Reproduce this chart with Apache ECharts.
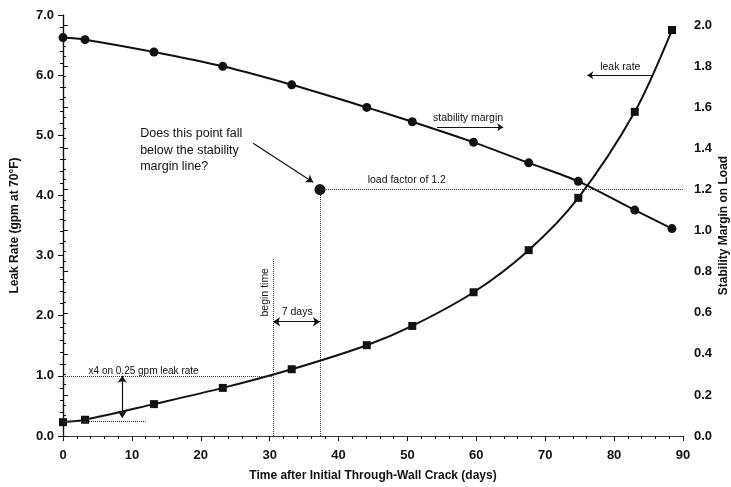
<!DOCTYPE html>
<html>
<head>
<meta charset="utf-8">
<script src="https://cdn.jsdelivr.net/npm/echarts@6/dist/echarts.min.js"></script>
<style>
html, body { margin: 0; padding: 0; background: #fff; }
#chart { width: 731px; height: 487px; }
</style>
</head>
<body>
<div id="chart"></div>
<script>
// time after initial through-wall crack (days)
var days = [0, 3.2, 13.2, 23.2, 33.2, 44.1, 50.7, 59.6, 67.6, 74.8, 83.0, 88.4];
// leak rate, gpm at 70F (left axis)
var leakRate = [0.23, 0.27, 0.53, 0.80, 1.11, 1.51, 1.83, 2.39, 3.09, 3.96, 5.39, 6.75];
// stability margin on load (right axis)
var stabilityMargin = [1.94, 1.93, 1.87, 1.80, 1.71, 1.60, 1.53, 1.43, 1.33, 1.24, 1.10, 1.01];
// the questioned point: begin time + 7 days, load factor 1.2
var beginTime = 30.5;
var queryPoint = [37.3, 1.2];
var marginTicks = [0, 0.2, 0.4, 0.6, 0.8, 1.0, 1.2, 1.4, 1.6, 1.8, 2.0];

var FONT = 'Liberation Sans, Arial, sans-serif';
var INK = '#111';

var chart = echarts.init(document.getElementById('chart'));

function pairs(xs, ys) {
    return xs.map(function (x, i) { return [x, ys[i]]; });
}

var dotted = { type: 'dotted', color: '#333', width: 1 };
var solid = { type: 'solid', color: INK, width: 1.2 };

var tickLabel = { color: INK, fontFamily: FONT, fontWeight: 'bold', fontSize: 13 };
var nameStyle = { color: INK, fontFamily: FONT, fontWeight: 'bold', fontSize: 12 };

var option = {
    animation: false,
    backgroundColor: '#fff',
    grid: { left: 63, right: 48, top: 15, bottom: 51, outerBoundsMode: 'none', containLabel: false },
    xAxis: [
        {
            type: 'value',
            min: 0,
            max: 90,
            interval: 10,
            name: 'Time after Initial Through-Wall Crack (days)',
            nameLocation: 'middle',
            nameGap: 34,
            nameTextStyle: nameStyle,
            axisLine: { lineStyle: { color: INK, width: 1.2 } },
            axisTick: { length: 5, lineStyle: { color: INK } },
            minorTick: { show: true, splitNumber: 5, length: 3, lineStyle: { color: INK } },
            axisLabel: Object.assign({ margin: 13 }, tickLabel),
            splitLine: { show: false }
        },
        {
            type: 'value',
            position: 'top',
            min: 0,
            max: 90,
            axisLine: { show: true, lineStyle: { color: '#444', type: 'dotted', width: 1 } },
            axisTick: { show: false },
            axisLabel: { show: false },
            splitLine: { show: false }
        }
    ],
    yAxis: [
        {
            type: 'value',
            min: 0,
            max: 7,
            interval: 1,
            name: 'Leak Rate (gpm at 70°F)',
            nameLocation: 'middle',
            nameRotate: 90,
            nameGap: 42,
            nameTextStyle: nameStyle,
            axisLine: { show: true, lineStyle: { color: INK, width: 1.2 } },
            axisTick: { length: 5, lineStyle: { color: INK } },
            minorTick: { show: true, splitNumber: 5, length: 3, lineStyle: { color: INK } },
            axisLabel: Object.assign({ margin: 9, formatter: function (v) { return v.toFixed(1); } }, tickLabel),
            splitLine: { show: false }
        },
        {
            type: 'value',
            min: 0,
            max: 2.05,
            interval: 0.2,
            position: 'right',
            name: 'Stability Margin on Load',
            nameLocation: 'middle',
            nameRotate: 90,
            nameGap: 35,
            nameMoveOverlap: false,
            nameTextStyle: nameStyle,
            axisLine: { show: true, lineStyle: { color: INK, width: 1.2 } },
            axisTick: { length: 5, customValues: marginTicks, lineStyle: { color: INK } },
            minorTick: { show: true, splitNumber: 4, length: 3, lineStyle: { color: INK } },
            axisLabel: Object.assign({
                margin: 11,
                customValues: marginTicks,
                formatter: function (v) { return v.toFixed(1); }
            }, tickLabel),
            splitLine: { show: false }
        }
    ],
    series: [
        {
            name: 'leak rate',
            type: 'line',
            xAxisIndex: 0,
            yAxisIndex: 0,
            smooth: 0.3,
            symbol: 'rect',
            symbolSize: 8,
            lineStyle: { color: INK, width: 2 },
            itemStyle: { color: INK },
            data: pairs(days, leakRate),
            markLine: {
                silent: true,
                symbol: 'none',
                label: { show: false },
                data: [
                    // x4 on the 0.25 gpm leak rate
                    [{ coord: [0, 1.0], lineStyle: dotted }, { coord: [beginTime, 1.0] }],
                    [{ coord: [0, 0.25], lineStyle: dotted }, { coord: [12, 0.25] }],
                    // begin time
                    [{ coord: [beginTime, 0], lineStyle: dotted }, { coord: [beginTime, 2.95] }],
                    // 7 days double arrow
                    [{ coord: [beginTime, 1.9], lineStyle: solid, symbol: 'arrow', symbolSize: 7 },
                     { coord: [queryPoint[0], 1.9], symbol: 'arrow', symbolSize: 7 }],
                    // x4 double arrow
                    [{ coord: [8.6, 0.3], lineStyle: solid, symbol: 'arrow', symbolSize: 7 },
                     { coord: [8.6, 1.0], symbol: 'arrow', symbolSize: 7 }],
                    // leak rate label arrow
                    [{ coord: [85.5, 6.0], lineStyle: solid, symbol: 'none' },
                     { coord: [76.1, 6.0], symbol: 'arrow', symbolSize: 6 }]
                ]
            }
        },
        {
            name: 'stability margin',
            type: 'line',
            xAxisIndex: 0,
            yAxisIndex: 1,
            smooth: 0.3,
            symbol: 'circle',
            symbolSize: 9,
            lineStyle: { color: INK, width: 2 },
            itemStyle: { color: INK },
            data: pairs(days, stabilityMargin),
            markLine: {
                silent: true,
                symbol: 'none',
                label: { show: false },
                data: [
                    // load factor of 1.2
                    [{ coord: [queryPoint[0], 1.2], lineStyle: dotted }, { coord: [90, 1.2] }],
                    [{ coord: [queryPoint[0], 0], lineStyle: dotted }, { coord: [queryPoint[0], 1.2] }],
                    // stability margin label arrow
                    [{ coord: [54.3, 1.504], lineStyle: solid, symbol: 'none' },
                     { coord: [63.9, 1.504], symbol: 'arrow', symbolSize: 6 }],
                    // question arrow
                    [{ coord: [27.6, 1.426], lineStyle: solid, symbol: 'none' },
                     { coord: [36.3, 1.236], symbol: 'arrow', symbolSize: 7 }]
                ]
            }
        },
        {
            name: 'question',
            type: 'scatter',
            xAxisIndex: 0,
            yAxisIndex: 1,
            symbol: 'circle',
            symbolSize: 11,
            itemStyle: { color: INK, opacity: 1 },
            data: [queryPoint]
        }
    ]
};

chart.setOption(option);

// annotation texts, placed in data coordinates of the left axis
var notes = [
    { x: 11.2, y: 5.03, text: 'Does this point fall', size: 12.5, align: 'left' },
    { x: 11.2, y: 4.75, text: 'below the stability', size: 12.5, align: 'left' },
    { x: 11.2, y: 4.48, text: 'margin line?', size: 12.5, align: 'left' },
    { x: 49.9, y: 4.26, text: 'load factor of 1.2', size: 10.5, align: 'center' },
    { x: 58.8, y: 5.29, text: 'stability margin', size: 10.5, align: 'center' },
    { x: 80.9, y: 6.14, text: 'leak rate', size: 10.5, align: 'center' },
    { x: 34.0, y: 2.06, text: '7 days', size: 10.5, align: 'center' },
    { x: 11.7, y: 1.08, text: 'x4 on 0.25 gpm leak rate', size: 10, align: 'center' },
    { x: 29.3, y: 2.39, text: 'begin time', size: 10.5, align: 'center', rotate: true }
];

var graphics = notes.map(function (n) {
    var p = chart.convertToPixel({ xAxisIndex: 0, yAxisIndex: 0 }, [n.x, n.y]);
    return {
        type: 'text',
        x: p[0],
        y: p[1],
        rotation: n.rotate ? Math.PI / 2 : 0,
        silent: true,
        style: {
            text: n.text,
            fill: INK,
            font: 'normal ' + n.size + 'px ' + FONT,
            textAlign: n.align,
            textVerticalAlign: 'middle'
        }
    };
});

chart.setOption({ graphic: graphics });
</script>
</body>
</html>
